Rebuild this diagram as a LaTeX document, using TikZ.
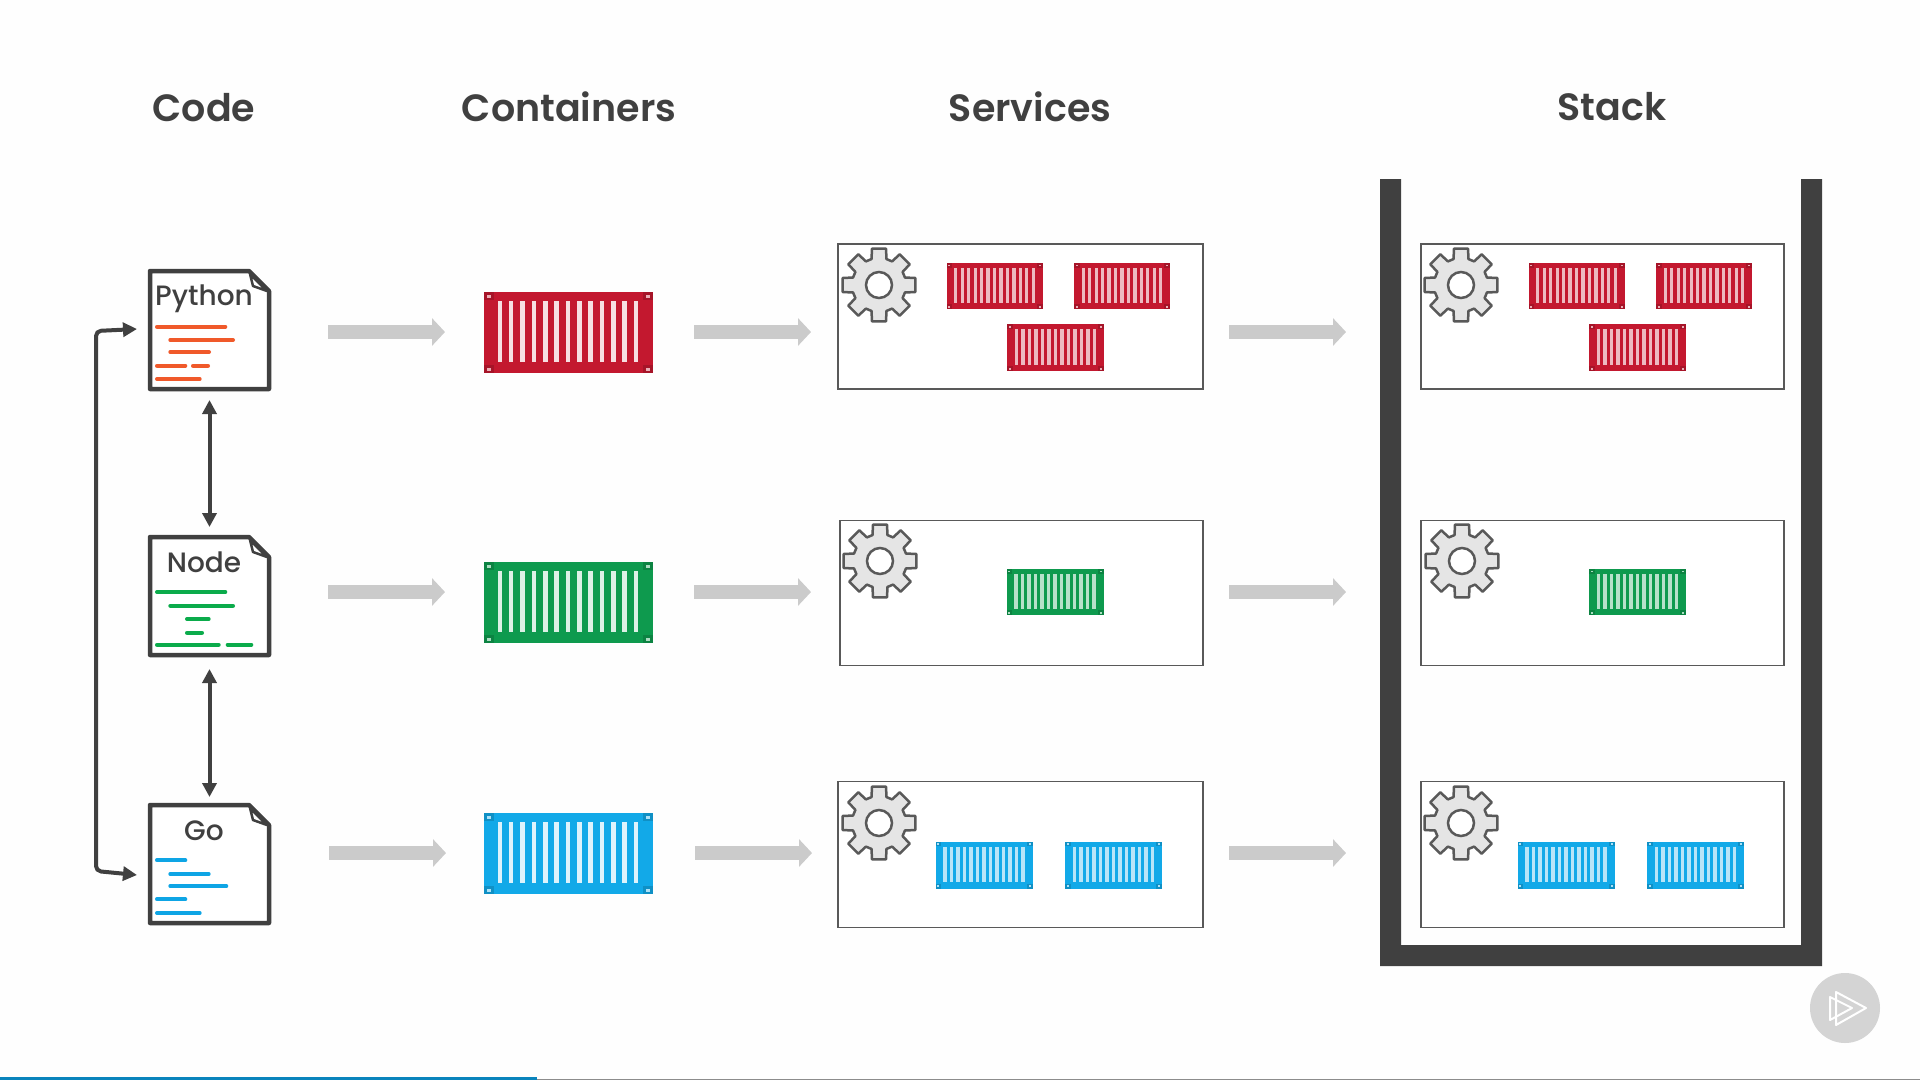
\documentclass[tikz,border=0pt]{standalone}
\usepackage{fontspec}
\setmainfont{Poppins}[BoldFont={Poppins SemiBold}]
\newfontfamily\medfont{Poppins Medium}
\usetikzlibrary{arrows.meta,calc}
\definecolor{ink}{HTML}{404040}
\definecolor{cred}{HTML}{C3182F}
\definecolor{cgreen}{HTML}{0E9A4E}
\definecolor{cblue}{HTML}{12A9E8}
\definecolor{lorange}{HTML}{F0592A}
\definecolor{lgreen}{HTML}{0BAB4B}
\definecolor{lblue}{HTML}{0EA5E5}
\definecolor{flow}{HTML}{CBCBCB}
\definecolor{barblue}{HTML}{0A84BC}
\tikzset{
  header/.style={font=\fontsize{38}{40}\selectfont\bfseries,text=ink,inner sep=0pt},
  doctitle/.style={font=\medfont\fontsize{28}{30}\selectfont,text=ink,inner sep=0pt},
  docbody/.style={rectangle,inner sep=0pt,outer sep=0pt,minimum width=119pt,minimum height=118pt},
  docline/.style={draw=ink,line width=4.5pt,line join=round},
  codeline/.style={line width=4pt,line cap=round,shorten <=2pt,shorten >=2pt},
  flowarrow/.style={draw=flow,line width=14pt,-{Triangle[length=13pt,width=27pt]}},
  linkarrow/.style={draw=ink,line width=4pt,{Triangle[length=14pt,width=14pt]}-{Triangle[length=14pt,width=14pt]}},
  looparrow/.style={draw=ink,line width=4pt,rounded corners=5pt,{Triangle[length=14pt,width=14pt]}-{Triangle[length=14pt,width=14pt]}},
  svc/.style={rectangle,draw=black!65,line width=1.3pt,fill=white,inner sep=0pt,outer sep=0pt},
  gearshape/.style={fill=black!10,draw=black!65,line width=2.5pt,line join=round},
  ship/.style={rectangle,inner sep=0pt,outer sep=0pt}
}
\newcommand{\gearicon}[2]{%
  \begin{scope}[shift={(#1,#2)}]
    \draw[gearshape] (-16:27) \foreach \a in {0,45,...,315} {
      -- (\a-16:27) -- (\a-11:37) -- (\a+11:37) -- (\a+16:27) } -- cycle;
    \draw[fill=white,draw=black!65,line width=2.5pt] (0,0) circle (13);
  \end{scope}}
\def\slotmix{14}
\def\slotw{.027}
\newcommand{\shipbox}[6]{%
  \node[ship,fill=#6,minimum width=#4pt,minimum height=#5pt] (#1) at (#2,#3) {};
  \begin{scope}[shift={(#2,#3)},x=#4pt,y=-#5pt]
    \foreach \i in {0,...,12} {
      \pgfmathsetmacro{\sx}{-0.42+0.0672*\i}
      \fill[#6!\slotmix!white] (\sx,-.385) rectangle ++(\slotw,.755);
    }
    \foreach \cx in {-.5,.44} \foreach \cy in {-.5,.4} {
      \fill[#6!85!black] (\cx,\cy) rectangle ++(.06,.1);
      \fill[#6!35!white] (\cx+.02,\cy+.035) rectangle ++(.02,.04);
    }
  \end{scope}}
\newcommand{\codedoc}[2]{%
  \node[docbody] (#1) at (209.5,#2+59) {};
  \draw[docline,fill=white] (150,#2) -- (249,#2) -- (269,#2+20) -- (269,#2+118) -- (150,#2+118) -- cycle;
  \draw[draw=ink,line width=2.5pt,line join=round,fill=white] (250,#2+3) -- (253,#2+15) -- (267,#2+20) -- cycle;}
\begin{document}
\begin{tikzpicture}[x=1pt,y=-1pt]
\useasboundingbox (0,0) rectangle (1920,1080);
\fill[white!99.5!black] (0,0) rectangle (1920,1080);

% headers
\node[header] (hcode) at (204,108) {Code};
\node[header] (hcont) at (569,107) {Containers};
\node[header] (hserv) at (1030,107) {Services};
\node[header] (hstack) at (1612,107) {Stack};

% stack frame
\fill[ink] (1380,179) -- (1401,179) -- (1401,945) -- (1801,945) -- (1801,179) -- (1822,179) -- (1822,966) -- (1380,966) -- cycle;

% code documents
\codedoc{docpy}{271}
\codedoc{docnd}{537}
\codedoc{docgo}{805}
\node[doctitle] (tpy) at (204,298.5) {Python};
\node[doctitle] (tnd) at (204,562) {Node};
\node[doctitle] (tgo) at (204,831) {Go};
\foreach \xa/\xb/\yy in {155/227.3/326.7,168.3/235/340,168.3/211/352,155/187.3/365.7,191/210/365.7,155/201.7/379}
  \draw[codeline,lorange] (\xa,\yy) -- (\xb,\yy);
\foreach \xa/\xb/\yy in {155/227.3/592,168.3/235/605.7,185/210.7/619,185/204/632.7,155/220.7/644.7,225.7/253.3/644.7}
  \draw[codeline,lgreen] (\xa,\yy) -- (\xb,\yy);
\foreach \xa/\xb/\yy in {155/187.3/860.3,168.3/210.7/874,168.3/228.3/886,155/187.3/899.3,155/201.7/913}
  \draw[codeline,lblue] (\xa,\yy) -- (\xb,\yy);

% links between documents
\draw[linkarrow,shorten <=11pt,shorten >=10pt] (docpy.south) -- (docnd.north);
\draw[linkarrow,shorten <=14pt,shorten >=8pt] (docnd.south) -- (docgo.north);
\coordinate (lt) at (137,329);
\coordinate (lb) at (137,875);
\draw[looparrow] (lt) -- (96,331) -- (96,871) -- (lb);

% big containers
\shipbox{bigr}{568.5}{332.5}{169}{81}{cred}
\shipbox{bigg}{568.5}{602.5}{169}{81}{cgreen}
\shipbox{bigb}{568.5}{853.5}{169}{81}{cblue}

% flow arrows
\foreach \yy/\dx in {332/0,592/0,853/1} {
  \coordinate (fa) at (328+\dx,\yy); \coordinate (fb) at (445+\dx,\yy);
  \draw[flowarrow] (fa) -- (fb);
  \coordinate (fc) at (694+\dx,\yy); \coordinate (fd) at (811+\dx,\yy);
  \draw[flowarrow] (fc) -- (fd);
  \coordinate (fe) at (1229,\yy); \coordinate (ff) at (1346,\yy);
  \draw[flowarrow] (fe) -- (ff);
}

% service boxes
\node[svc,minimum width=365pt,minimum height=145pt] (s1) at (1020.5,316.5) {};
\node[svc,minimum width=363pt,minimum height=145pt] (s2) at (1021.5,593) {};
\node[svc,minimum width=365pt,minimum height=146pt] (s3) at (1020.5,854.5) {};
\node[svc,minimum width=363pt,minimum height=145pt] (k1) at (1602.5,316.5) {};
\node[svc,minimum width=363pt,minimum height=145pt] (k2) at (1602.5,593) {};
\node[svc,minimum width=363pt,minimum height=146pt] (k3) at (1602.5,854.5) {};

% gears
\gearicon{879}{285}
\gearicon{880}{561}
\gearicon{879}{823}
\gearicon{1461}{285}
\gearicon{1462}{561}
\gearicon{1461}{823}

% small containers
\def\slotmix{30}
\def\slotw{.034}
\shipbox{sa}{994.5}{286}{96}{46}{cred}
\shipbox{sb}{1122}{286}{96}{46}{cred}
\shipbox{sc}{1055.5}{347.5}{97}{47}{cred}
\shipbox{sd}{1055}{592}{97}{46}{cgreen}
\shipbox{se}{984}{865}{97}{47}{cblue}
\shipbox{sf}{1113.5}{865}{97}{47}{cblue}
\shipbox{ka}{1576.5}{286}{96}{46}{cred}
\shipbox{kb}{1704}{286}{96}{46}{cred}
\shipbox{kc}{1637.5}{347.5}{97}{47}{cred}
\shipbox{kd}{1637.5}{592}{97}{46}{cgreen}
\shipbox{ke}{1566}{865}{97}{47}{cblue}
\shipbox{kf}{1695.5}{865}{97}{47}{cblue}

% progress bar
\fill[black!45] (0,1078.5) rectangle (1920,1080);
\fill[barblue] (0,1077) rectangle (537,1080);

% play button
\fill[black!17] (1845,1008) circle (35);
\draw[white,line width=2pt,line join=round] (1836,992) -- (1866,1008) -- (1836,1025) -- cycle;
\draw[white,line width=2pt,line join=round] (1830,997) -- (1852,1008) -- (1830,1020) -- cycle;
\end{tikzpicture}
\end{document}
